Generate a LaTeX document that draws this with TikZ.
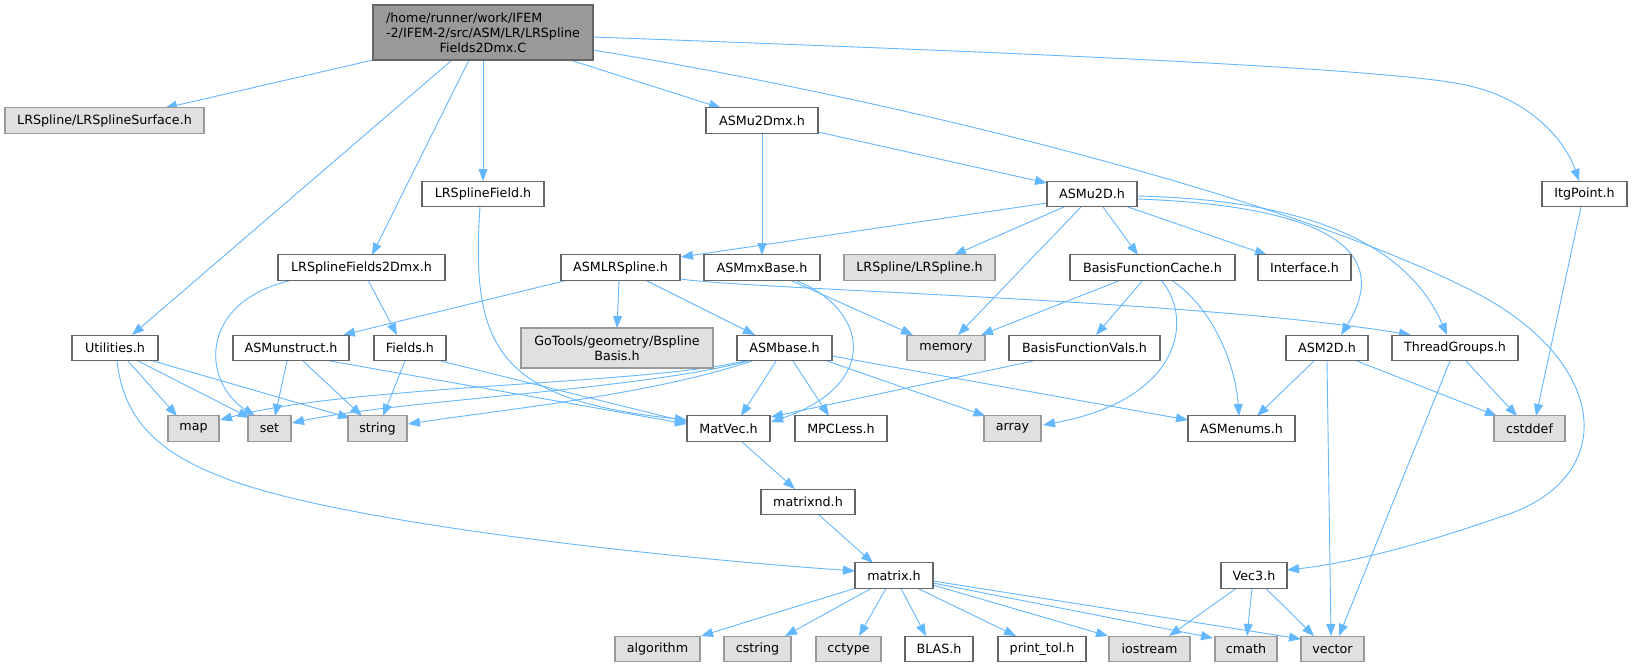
\documentclass[tikz,border=0pt]{standalone}
\usepackage{fontspec}
\newfontfamily\djv{DejaVu Sans}
\usetikzlibrary{arrows.meta,calc}
\definecolor{edgeblue}{HTML}{63B8FF}
\definecolor{boxborder}{HTML}{666666}
\definecolor{sysborder}{HTML}{999999}
\definecolor{sysfill}{HTML}{E0E0E0}
\definecolor{rootfill}{HTML}{999999}
\definecolor{rootborder}{HTML}{666666}
\pgfdeclarelayer{bg}
\pgfsetlayers{bg,main}
\tikzset{
  box/.style={rectangle, draw=boxborder, fill=white, line width=1.2pt, minimum height=25.5pt, inner sep=0pt, text=black, font=\djv\fontsize{12.7pt}{15pt}\selectfont},
  sysbox/.style={box, draw=sysborder, fill=sysfill},
  rootbox/.style={box, draw=rootborder, fill=rootfill, minimum height=55pt},
  dep/.style={draw=edgeblue, line width=0.9pt, -{Triangle[length=12pt,width=9pt]}}
}
\begin{document}
\begin{tikzpicture}[x=1pt,y=-1pt]
\useasboundingbox (0,0) rectangle (1632,667);

% rank 0
\node[rootbox, minimum width=220pt, align=center] (root) at (483,32.5) {\makebox[0pt][l]{/home/runner/work/IFEM}\phantom{-2/IFEM-2/src/ASM/LR/LRSpline}\\-2/IFEM-2/src/ASM/LR/LRSpline\\Fields2Dmx.C};
% rank 1
\node[sysbox, minimum width=199pt] (LRSS) at (104.5,120.5) {LRSpline/LRSplineSurface.h};
\node[box, minimum width=112pt] (ASMu2Dmx) at (762,120.5) {ASMu2Dmx.h};
% rank 2
\node[box, minimum width=122pt] (LRSF) at (483,194) {LRSplineField.h};
\node[box, minimum width=90pt] (ASMu2D) at (1092,194) {ASMu2D.h};
\node[box, minimum width=85pt] (Itg) at (1584.5,194) {ItgPoint.h};
% rank 3
\node[box, minimum width=167pt] (LRSF2) at (361.5,267.5) {LRSplineFields2Dmx.h};
\node[box, minimum width=119pt] (ASMLR) at (620.5,267.5) {ASMLRSpline.h};
\node[box, minimum width=116pt] (ASMmx) at (762,267.5) {ASMmxBase.h};
\node[sysbox, minimum width=151pt] (LRS) at (919.5,267.5) {LRSpline/LRSpline.h};
\node[box, minimum width=165pt] (BFC) at (1152.5,267.5) {BasisFunctionCache.h};
\node[box, minimum width=93pt] (Intf) at (1304.5,267.5) {Interface.h};
% rank 4
\node[box, minimum width=86pt] (Util) at (115,348) {Utilities.h};
\node[box, minimum width=116pt] (ASMun) at (291,348) {ASMunstruct.h};
\node[box, minimum width=72pt] (Fields) at (410,348) {Fields.h};
\node[sysbox, minimum width=192pt, minimum height=40pt, align=center] (GoT) at (617,348) {GoTools/geometry/Bspline\\Basis.h};
\node[box, minimum width=95pt] (ASMb) at (784.5,348) {ASMbase.h};
\node[sysbox, minimum width=78pt] (mem) at (946,348) {memory};
\node[box, minimum width=151pt] (BFV) at (1084.5,348) {BasisFunctionVals.h};
\node[box, minimum width=82pt] (ASM2D) at (1327,348) {ASM2D.h};
\node[box, minimum width=126pt] (TG) at (1455,348) {ThreadGroups.h};
% rank 5
\node[sysbox, minimum width=51pt] (map) at (193.5,428.5) {map};
\node[sysbox, minimum width=43pt] (set) at (269.5,428.5) {set};
\node[sysbox, minimum width=59pt] (string) at (377.5,428.5) {string};
\node[box, minimum width=83pt] (MatVec) at (728.5,428.5) {MatVec.h};
\node[box, minimum width=92pt] (MPC) at (841,428.5) {MPCLess.h};
\node[sysbox, minimum width=57pt] (array) at (1012.5,428.5) {array};
\node[box, minimum width=107pt] (enums) at (1241.5,428.5) {ASMenums.h};
\node[sysbox, minimum width=71pt] (cstddef) at (1529.5,428.5) {cstddef};
% rank 6
\node[box, minimum width=94pt] (mnd) at (808,502) {matrixnd.h};
% rank 7
\node[box, minimum width=78pt] (matrix) at (894,575.5) {matrix.h};
\node[box, minimum width=66pt] (Vec3) at (1254,575.5) {Vec3.h};
% rank 8
\node[sysbox, minimum width=85pt] (algo) at (657.5,649) {algorithm};
\node[sysbox, minimum width=67pt] (cstring) at (757.5,649) {cstring};
\node[sysbox, minimum width=65pt] (cctype) at (848.5,649) {cctype};
\node[box, minimum width=68pt] (BLAS) at (939,649) {BLAS.h};
\node[box, minimum width=88pt] (ptol) at (1042,649) {print\_tol.h};
\node[sysbox, minimum width=81pt] (iostream) at (1149.5,649) {iostream};
\node[sysbox, minimum width=62pt] (cmath) at (1246,649) {cmath};
\node[sysbox, minimum width=63pt] (vector) at (1332.5,649) {vector};

\begin{pgfonlayer}{bg}
\fill[white] (0,0) rectangle (1632,667);
% root
\draw[dep] ($(root)+(-110,27.5)$) -- ($(LRSS)+(60.5,-12.5)$);
\draw[dep] ($(root)+(-31,27.5)$) -- ($(Util)+(17,-13)$);
\draw[dep] ($(root)+(-14,27.5)$) -- ($(LRSF2)+(10.5,-12.5)$);
\draw[dep] ($(root)+(0,27.5)$) -- ($(LRSF)+(0,-13)$);
\draw[dep] ($(root)+(87,27.5)$) -- ($(ASMu2Dmx)+(-41,-12.5)$);
\draw[dep] ($(root)+(110,4.5)$) .. controls (1000,52) and (1400,68) .. (1470,86) .. controls (1530,100) and (1565,140) .. ($(Itg)+(-5.5,-13)$);
\draw[dep] ($(root)+(110,17.5)$) .. controls (900,100) and (1300,200) .. (1480,295) .. controls (1610,365) and (1620,480) .. (1500,517) .. controls (1420,545) and (1350,563) .. ($(Vec3)+(33,-5.5)$);
% ASMu2Dmx
\draw[dep] ($(ASMu2Dmx)+(56,11.5)$) -- ($(ASMu2D)+(-45,-11)$);
\draw[dep] ($(ASMu2Dmx)+(0,12.5)$) -- ($(ASMmx)+(0,-12.5)$);
% LRSplineField
\draw[dep] ($(LRSF)+(-3,13)$) .. controls (470,350) and (500,400) .. ($(MatVec)+(-41.5,-8.5)$);
% LRSplineFields2Dmx
\draw[dep] ($(LRSF2)+(-68.5,12.5)$) .. controls (200,300) and (200,380) .. ($(set)+(-14.5,-12.5)$);
\draw[dep] ($(LRSF2)+(6.5,12.5)$) -- ($(Fields)+(-13,-13)$);
% ASMu2D
\draw[dep] ($(ASMu2D)+(-45,9)$) -- ($(ASMLR)+(60.5,-10.5)$);
\draw[dep] ($(ASMu2D)+(-28,13)$) -- ($(LRS)+(34.5,-12.5)$);
\draw[dep] ($(ASMu2D)+(-11,13)$) -- ($(mem)+(12,-13)$);
\draw[dep] ($(ASMu2D)+(11,13)$) -- ($(BFC)+(-14.5,-12.5)$);
\draw[dep] ($(ASMu2D)+(36,13)$) -- ($(Intf)+(-37.5,-12.5)$);
\draw[dep] ($(ASMu2D)+(45,5)$) .. controls (1300,205) and (1400,240) .. ($(ASM2D)+(14,-13)$);
\draw[dep] ($(ASMu2D)+(45,2)$) .. controls (1320,200) and (1410,250) .. ($(TG)+(-8,-13)$);
% ItgPoint
\draw[dep] ($(Itg)+(-3.5,13)$) -- ($(cstddef)+(6.5,-12.5)$);
% ASMLRSpline
\draw[dep] ($(ASMLR)+(-52.5,12.5)$) -- ($(ASMun)+(52,-13)$);
\draw[dep] ($(ASMLR)+(-1.5,12.5)$) -- ($(GoT)+(0,-20)$);
\draw[dep] ($(ASMLR)+(24.5,12.5)$) -- ($(ASMb)+(-29.5,-13)$);
\draw[dep] ($(ASMLR)+(59.5,11.5)$) .. controls (760,290) and (1200,300) .. ($(TG)+(-44,-13)$);
% ASMmxBase
\draw[dep] ($(ASMmx)+(28,12.5)$) -- ($(mem)+(-33,-13)$);
\draw[dep] ($(ASMmx)+(33,12.5)$) .. controls (870,310) and (880,385) .. ($(MatVec)+(42.5,-6.5)$);
% ASMbase
\draw[dep] ($(ASMb)+(-39.5,13)$) .. controls (640,385) and (350,385) .. ($(map)+(26.5,-8.5)$);
\draw[dep] ($(ASMb)+(-36.5,13)$) .. controls (640,390) and (400,400) .. ($(set)+(22.5,-5.5)$);
\draw[dep] ($(ASMb)+(-32.5,13)$) .. controls (650,395) and (500,410) .. ($(string)+(30.5,-4.5)$);
\draw[dep] ($(ASMb)+(-8.5,13)$) -- ($(MatVec)+(12.5,-12.5)$);
\draw[dep] ($(ASMb)+(8.5,13)$) -- ($(MPC)+(-12,-12.5)$);
\draw[dep] ($(ASMb)+(42.5,13)$) -- ($(array)+(-27,-12.5)$);
\draw[dep] ($(ASMb)+(47.5,8)$) -- ($(enums)+(-53.5,-8.5)$);
% BasisFunctionCache
\draw[dep] ($(BFC)+(-31.5,12.5)$) -- ($(mem)+(35,-13)$);
\draw[dep] ($(BFC)+(-9.5,12.5)$) -- ($(BFV)+(11.5,-13)$);
\draw[dep] ($(BFC)+(8.5,12.5)$) .. controls (1195,320) and (1180,400) .. ($(array)+(30.5,-3.5)$);
\draw[dep] ($(BFC)+(18.5,12.5)$) .. controls (1210,305) and (1235,360) .. ($(enums)+(-2.5,-12.5)$);
% BasisFunctionVals
\draw[dep] ($(BFV)+(-51.5,13)$) -- ($(MatVec)+(42.5,-11.5)$);
% ASM2D
\draw[dep] ($(ASM2D)+(-13,13)$) -- ($(enums)+(15.5,-12.5)$);
\draw[dep] ($(ASM2D)+(0,13)$) -- ($(vector)+(-1.5,-13)$);
\draw[dep] ($(ASM2D)+(30,13)$) -- ($(cstddef)+(-32.5,-12.5)$);
% ThreadGroups
\draw[dep] ($(TG)+(11,13)$) -- ($(cstddef)+(-12.5,-12.5)$);
\draw[dep] ($(TG)+(-5,13)$) -- ($(vector)+(6.5,-13)$);
% Utilities
\draw[dep] ($(Util)+(13,13)$) -- ($(map)+(-16.5,-12.5)$);
\draw[dep] ($(Util)+(23,13)$) -- ($(set)+(-19.5,-10.5)$);
\draw[dep] ($(Util)+(38,13)$) -- ($(string)+(-27.5,-10.5)$);
\draw[dep] ($(Util)+(2,13)$) .. controls (125,430) and (170,470) .. (300,500) .. controls (450,535) and (700,560) .. ($(matrix)+(-39,-4.5)$);
% ASMunstruct
\draw[dep] ($(ASMun)+(-4,13)$) -- ($(set)+(5.5,-12.5)$);
\draw[dep] ($(ASMun)+(12,13)$) -- ($(string)+(-15.5,-12.5)$);
\draw[dep] ($(ASMun)+(39,13)$) -- ($(MatVec)+(-41.5,-4.5)$);
% Fields
\draw[dep] ($(Fields)+(-5,13)$) -- ($(string)+(5.5,-12.5)$);
\draw[dep] ($(Fields)+(31,13)$) -- ($(MatVec)+(-41.5,-6.5)$);
% MatVec, matrixnd
\draw[dep] ($(MatVec)+(12.5,12.5)$) -- ($(mnd)+(-13,-13)$);
\draw[dep] ($(mnd)+(11,13)$) -- ($(matrix)+(-21,-12.5)$);
% matrix
\draw[dep] ($(matrix)+(-38,12.5)$) -- ($(algo)+(43.5,-13)$);
\draw[dep] ($(matrix)+(-23,13)$) -- ($(cstring)+(27.5,-13)$);
\draw[dep] ($(matrix)+(-8,13)$) -- ($(cctype)+(10.5,-13)$);
\draw[dep] ($(matrix)+(7,13)$) -- ($(BLAS)+(-13,-13)$);
\draw[dep] ($(matrix)+(24,13)$) -- ($(ptol)+(-26,-13)$);
\draw[dep] ($(matrix)+(39,9.5)$) -- ($(iostream)+(-41.5,-13)$);
\draw[dep] ($(matrix)+(39,7.5)$) -- ($(cmath)+(-33,-11)$);
\draw[dep] ($(matrix)+(39,5.5)$) -- ($(vector)+(-31.5,-10)$);
% Vec3
\draw[dep] ($(Vec3)+(-18,13)$) -- ($(iostream)+(19.5,-13)$);
\draw[dep] ($(Vec3)+(-2,13)$) -- ($(cmath)+(1,-13)$);
\draw[dep] ($(Vec3)+(12,13)$) -- ($(vector)+(-18.5,-13)$);
\end{pgfonlayer}
\end{tikzpicture}
\end{document}
